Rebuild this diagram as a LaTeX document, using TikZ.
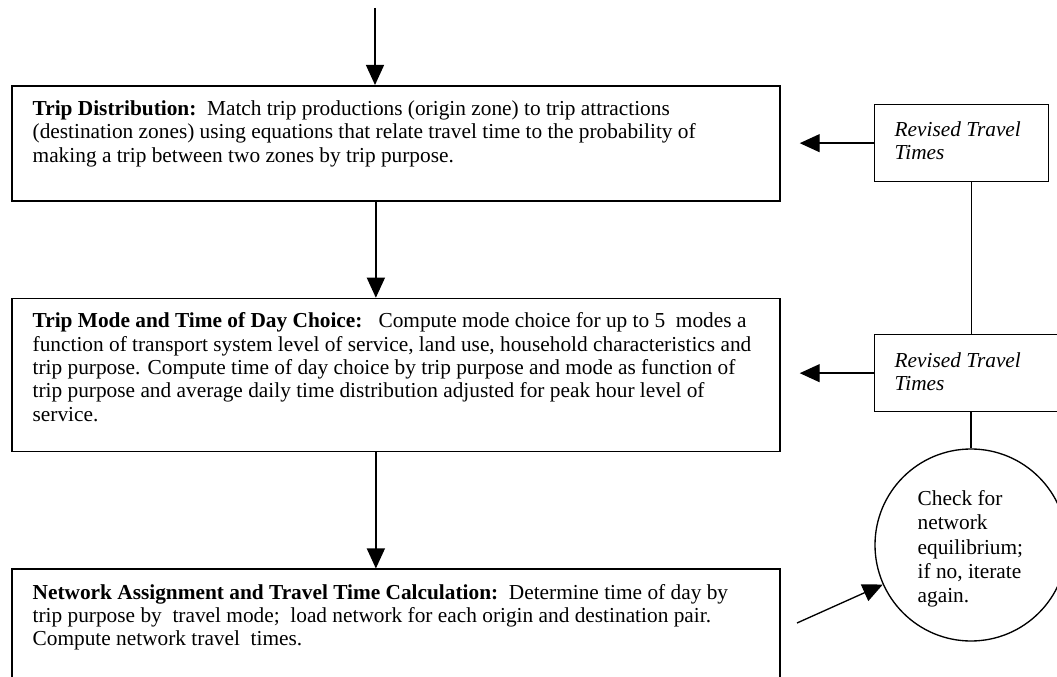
\documentclass[tikz,border=0pt]{standalone}
\usepackage{fontspec}
\setmainfont{Liberation Serif}
\usetikzlibrary{arrows.meta,positioning}

\begin{document}
\begin{tikzpicture}[x=0.75pt,y=-0.75pt,>={Triangle[length=15pt,width=13.5pt]},line width=1pt,main box/.style={draw,line width=1.3pt,minimum width=576pt,inner sep=0pt,anchor=north west},side box/.style={draw,minimum height=57.75pt,inner sep=0pt,anchor=north west},box text/.style={anchor=north west,inner sep=0pt,align=left,font=\fontsize{16}{17.5}\selectfont}]
            \useasboundingbox (0,0) rectangle (1057,677);
            \clip (0,0) rectangle (1057,677);

            \node[main box, minimum height=86.25pt] (dist) at (11,85) {};
            \node[main box, minimum height=114.75pt] (mode) [below = 72pt of dist]{};
            \node[main box, minimum height=150pt] (net) [below = 87pt of mode]{};

            \node[side box, minimum width=130.5pt] (rt1) at (874,104) {};
            \node[side box, minimum width=150pt] (rt2) at (874,334) {};
            \node[draw, circle, minimum size=144pt, inner sep=0pt] (chk) at (971,545) {};

            % texts: top of first strut, then shifted into place
            \node[box text] (x) [at = {(dist.north west)}, xshift = 15.75pt, yshift = -10.25pt]{\strut\textbf{Trip Distribution:}\ \ Match trip productions (origin zone) to trip attractions\\(destination zones) using equations that relate travel time to the probability of\\making a trip between two zones by trip purpose.};
            \node[box text] (x) [at = {(mode.north west)}, xshift = 15.75pt, yshift = -9.75pt]{\strut\textbf{Trip Mode and Time of Day Choice:}\ \ \ Compute mode choice for up to 5\ \ modes a\\function of transport system level of service, land use, household characteristics and\\trip purpose. Compute time of day choice by trip purpose and mode as function of\\trip purpose and average daily time distribution adjusted for peak hour level of\\service.};
            \node[box text] (x) [at = {(net.north west)}, xshift = 15.75pt, yshift = -10.25pt]{\strut\textbf{Network Assignment and Travel Time Calculation:}\ \ Determine time of day by\\trip purpose by\ \ travel mode;\ \ load network for each origin and destination pair.\\Compute network travel\ \ times.};
            \node[box text, font=\fontsize{16}{17.5}\selectfont\itshape] (x) [at = {(rt1.north west)}, xshift = 15pt, yshift = -11.75pt]{\strut Revised Travel\\Times};
            \node[box text, font=\fontsize{16}{17.5}\selectfont\itshape] (x) [at = {(rt2.north west)}, xshift = 15pt, yshift = -12.25pt]{\strut Revised Travel\\Times};
            \node[box text, font=\fontsize{16}{18.2}\selectfont] (x) [at = {(chk.center)}, xshift = -40.5pt, yshift = 42.75pt]{\strut Check for\\network\\equilibrium;\\if no, iterate\\again.};

            \coordinate (start) at (375,8);
            \coordinate (in) at (797,623);

            \draw[->] (start) -- (start |- dist.north);
            \draw[->] ([xshift=-15pt]dist.south) -- ([xshift=-15pt]mode.north);
            \draw[->] ([xshift=-15pt]mode.south) -- ([xshift=-15pt]mode.south |- net.north);
            \draw[->] (rt1.west) -- ([xshift=14.25pt]dist.east |- rt1.west);
            \draw[->] (rt2.west) -- ([xshift=14.25pt]mode.east |- rt2.west);
            \draw ([xshift=7.5pt]rt1.south) -- ([xshift=7.5pt]rt1.south |- rt2.north);
            \draw (chk.north |- rt2.south) -- (chk.north);
            \draw[->] (in) -- (chk);
        \end{tikzpicture}
\end{document}
